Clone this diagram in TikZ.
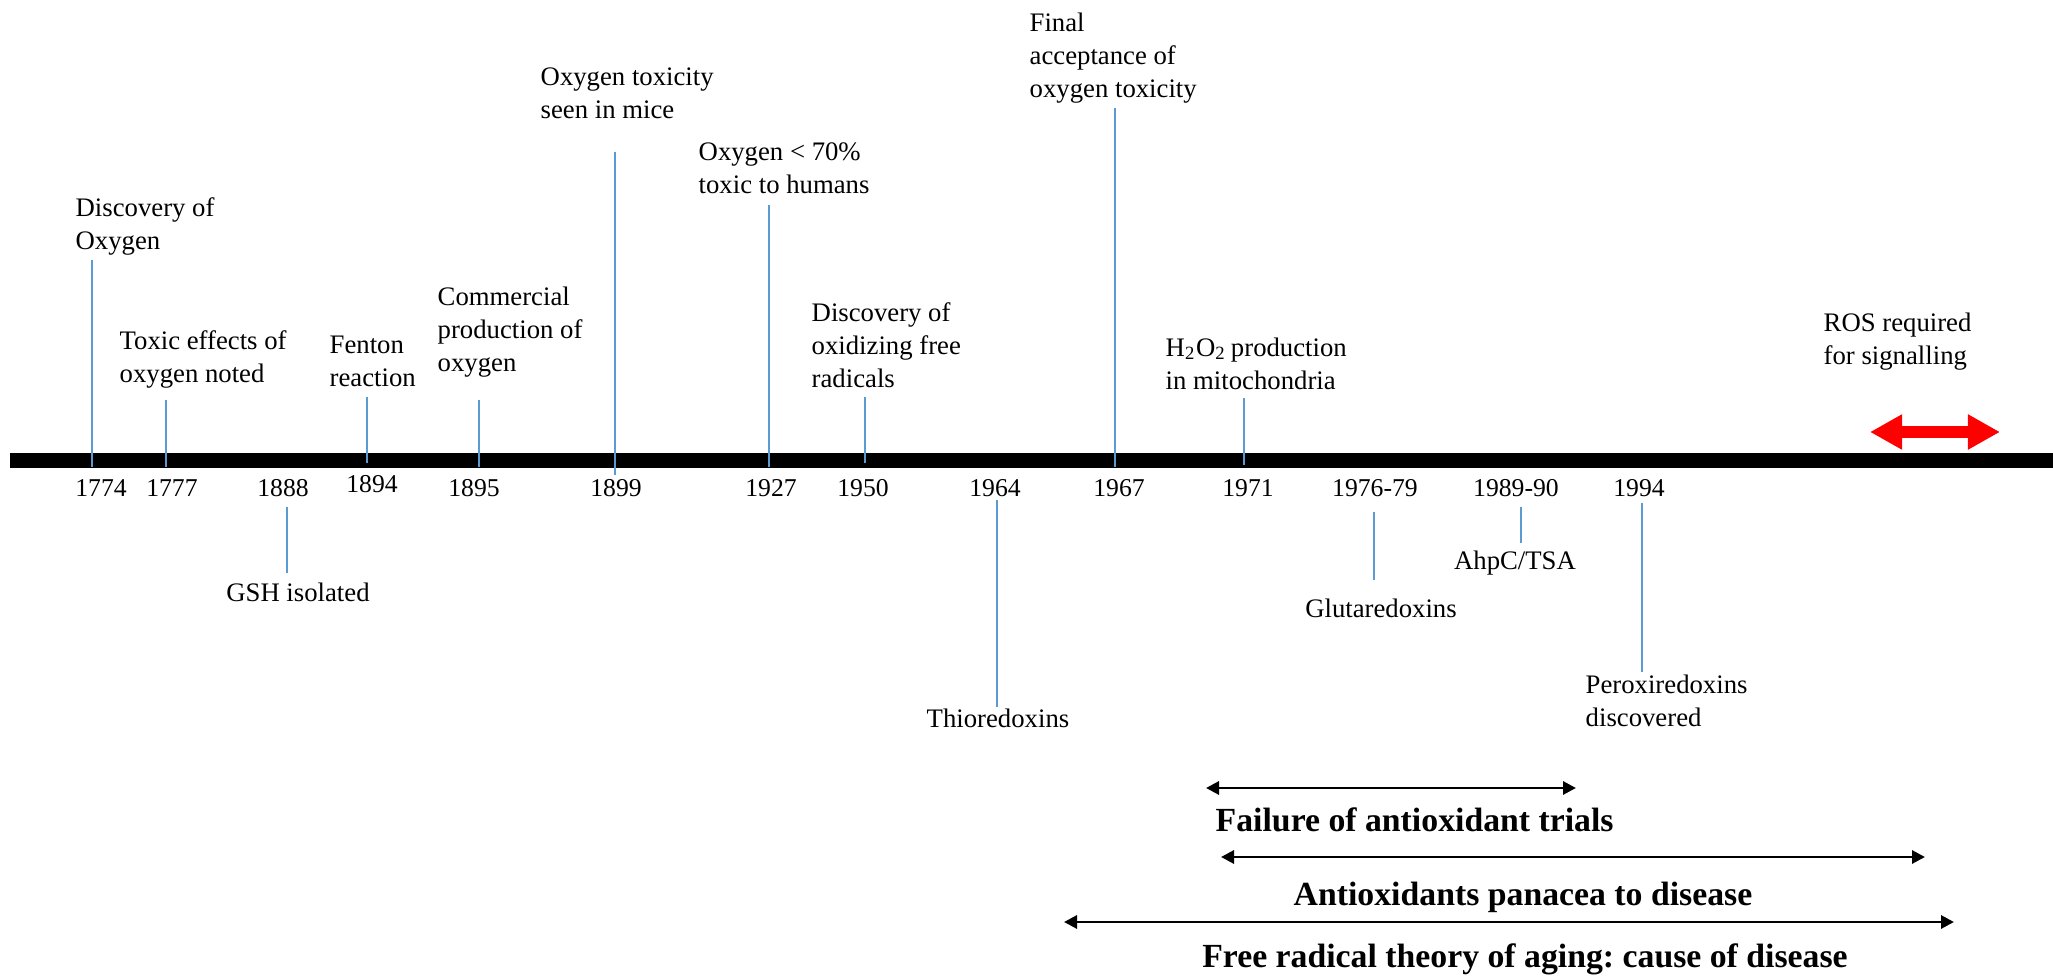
\documentclass[tikz,border=0pt]{standalone}
\usepackage{fontspec}
\setmainfont{Liberation Serif}
\newfontfamily\timesfont{Liberation Serif}
\usetikzlibrary{arrows.meta}
\definecolor{lineblue}{RGB}{91,155,213}
\frenchspacing
\tikzset{
  evtext/.style={font=\timesfont\fontsize{7.6}{9.4}\selectfont, align=left, anchor=north west, inner sep=0pt},
  subtext/.style={font=\timesfont\fontsize{7.6}{9.4}\selectfont, anchor=base, inner sep=0pt},
  yeartext/.style={font=\timesfont\fontsize{7.3}{9}\selectfont, anchor=base, inner sep=0pt},
  evline/.style={draw=lineblue, line width=0.6pt},
  timebar/.style={draw=black, line width=0.15cm},
  period/.style={draw=black, line width=0.85pt, {Triangle[length=0.13cm,width=0.13cm]}-{Triangle[length=0.13cm,width=0.13cm]}},
  periodtext/.style={font=\timesfont\bfseries\fontsize{9.6}{11}\selectfont, anchor=base, inner sep=0pt},
  rosarrow/.style={draw=red, line width=0.11cm, {Triangle[length=0.32cm,width=0.33cm]}-{Triangle[length=0.32cm,width=0.33cm]}}
}
\begin{document}
\begin{tikzpicture}[x=0.01cm, y=-0.01cm]
\path[use as bounding box] (0,0) rectangle (2053,976);

% main time bar
\coordinate (barL) at (10,460.5);
\coordinate (barR) at (2053,460.5);
\draw[timebar] (barL) -- (barR);

% event labels above
\node[evtext] (discO) at (75,197) {Discovery of\\Oxygen};
\node[evtext] (toxic) at (119,330) {Toxic effects of\\oxygen noted};
\node[evtext] (fenton) at (329,335) {Fenton\\reaction};
\node[evtext] (comm) at (437,286) {Commercial\\production of\\oxygen};
\node[evtext] (mice) at (540,67) {Oxygen toxicity\\seen in mice};
\node[evtext] (human) at (698,142) {Oxygen < 70\%\\toxic to humans};
\node[evtext] (radic) at (811,302) {Discovery of\\oxidizing free\\radicals};
\node[evtext] (final) at (1029,12) {Final\\acceptance of\\oxygen toxicity};
\node[evtext] (htwo) at (1165,337) {H\textsubscript{2}O\textsubscript{2}\,production\\in mitochondria};
\node[evtext] (ros) at (1823,312) {ROS required\\for signalling};

% event labels below
\node[subtext] (gsh) at (298,602) {GSH isolated};
\node[subtext] (thio) at (998,728) {Thioredoxins};
\node[subtext] (gluta) at (1381,617) {Glutaredoxins};
\node[subtext] (ahpc) at (1515,570) {AhpC/TSA};
\node[evtext] (perox) at (1585,674) {Peroxiredoxins\\discovered};

% years
\node[yeartext] (y1774) at (101,497) {1774};
\node[yeartext] (y1777) at (172,497) {1777};
\node[yeartext] (y1888) at (283,497) {1888};
\node[yeartext] (y1894) at (372,493) {1894};
\node[yeartext] (y1895) at (474,497) {1895};
\node[yeartext] (y1899) at (616,497) {1899};
\node[yeartext] (y1927) at (771,497) {1927};
\node[yeartext] (y1950) at (863,497) {1950};
\node[yeartext] (y1964) at (995,497) {1964};
\node[yeartext] (y1967) at (1119,497) {1967};
\node[yeartext] (y1971) at (1248,497) {1971};
\node[yeartext] (y1976) at (1375,497) {1976-79};
\node[yeartext] (y1989) at (1516,497) {1989-90};
\node[yeartext] (y1994) at (1639,497) {1994};

% blue marker lines
\coordinate (t1774) at (92,260);   \coordinate (b1774) at (92,467);
\coordinate (t1777) at (166,400);  \coordinate (b1777) at (166,467);
\coordinate (t1894) at (367,397);  \coordinate (b1894) at (367,463);
\coordinate (t1895) at (479,400);  \coordinate (b1895) at (479,467);
\coordinate (t1899) at (615,152);  \coordinate (b1899) at (615,475);
\coordinate (t1927) at (769,205);  \coordinate (b1927) at (769,467);
\coordinate (t1950) at (865,397);  \coordinate (b1950) at (865,463);
\coordinate (t1967) at (1115,108); \coordinate (b1967) at (1115,467);
\coordinate (t1971) at (1244,398); \coordinate (b1971) at (1244,465);
\coordinate (t1888) at (287,507);  \coordinate (b1888) at (287,573);
\coordinate (t1964) at (997,500);  \coordinate (b1964) at (997,707);
\coordinate (t1976) at (1374,512); \coordinate (b1976) at (1374,580);
\coordinate (t1989) at (1521,507); \coordinate (b1989) at (1521,543);
\coordinate (t1994) at (1642,503); \coordinate (b1994) at (1642,672);
\foreach \n in {1774,1777,1894,1895,1899,1927,1950,1967,1971,1888,1964,1976,1989,1994}
  \draw[evline] (t\n) -- (b\n);

% ROS arrow
\coordinate (rosL) at (1870,432);
\coordinate (rosR) at (2000,432);
\draw[rosarrow] (rosL) -- (rosR);

% periods
\coordinate (p1L) at (1206,788); \coordinate (p1R) at (1576,788);
\coordinate (p2L) at (1221,857); \coordinate (p2R) at (1925,857);
\coordinate (p3L) at (1064,922); \coordinate (p3R) at (1954,922);
\draw[period] (p1L) -- (p1R);
\draw[period] (p2L) -- (p2R);
\draw[period] (p3L) -- (p3R);
\node[periodtext, anchor=base west] (fail) at (1215,831) {Failure of antioxidant trials};
\node[periodtext] (panac) at (1523,906) {Antioxidants panacea to disease};
\node[periodtext] (frad) at (1525,967) {Free radical theory of aging: cause of disease};
\end{tikzpicture}
\end{document}
